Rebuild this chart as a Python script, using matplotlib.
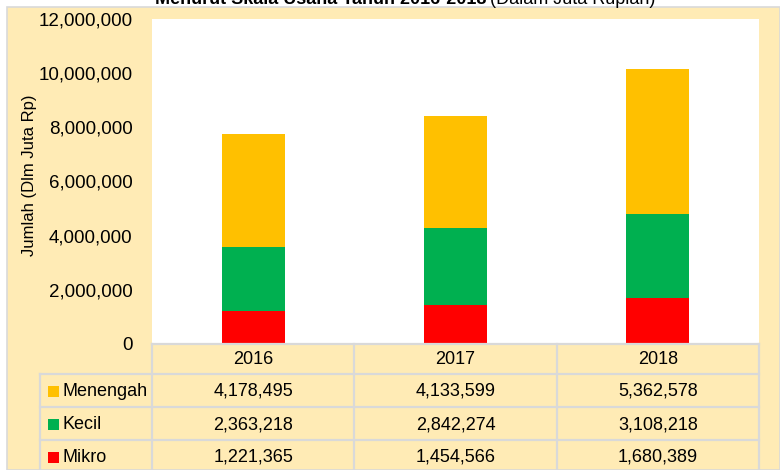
import matplotlib
matplotlib.use('Agg')
import matplotlib.pyplot as plt
from matplotlib.patches import Rectangle
from matplotlib.ticker import FuncFormatter

# Data (Juta Rp)
years = ['2016', '2017', '2018']
series = ['Menengah', 'Kecil', 'Mikro']
mikro = [1221365, 1454566, 1680389]
kecil = [2363218, 2842274, 3108218]
menengah = [4178495, 4133599, 5362578]
colors = {'Menengah': '#FFC000', 'Kecil': '#00B050', 'Mikro': '#FF0000'}

narrow = ['Liberation Sans Narrow', 'Liberation Sans', 'DejaVu Sans']
bg = '#FFEBB5'
grid_c = '#D9D9D9'

W, H = 780, 470
fig = plt.figure(figsize=(W / 100, H / 100), dpi=100, facecolor='white')


def fx(px):
    return px / W


def fy(py):
    # pixel from top -> figure fraction
    return 1 - py / H


# chart area background
fig.patches.append(Rectangle((fx(7), 0), 1 - fx(7), fy(6.5), transform=fig.transFigure,
                             facecolor=bg, edgecolor=grid_c, linewidth=1.2, zorder=-10))

# title (partly above the canvas)
fig.text(fx(486), fy(4), 'Menurut Skala Usaha Tahun 2016-2018', ha='right', va='baseline',
         fontsize=13, fontweight='bold', family=['Liberation Sans', 'DejaVu Sans'])
fig.text(fx(490), fy(4), '(Dalam Juta Rupiah)', ha='left', va='baseline',
         fontsize=13, family=['Liberation Sans', 'DejaVu Sans'])

# bar plot area
left, right, top, bottom = 152, 759, 19, 344
ax = fig.add_axes([fx(left), fy(bottom), fx(right - left), fy(top) - fy(bottom)])
ax.set_facecolor('white')
x = range(len(years))
bw = 0.31
ax.bar(x, mikro, bw, color=colors['Mikro'])
ax.bar(x, kecil, bw, bottom=mikro, color=colors['Kecil'])
base2 = [a + b for a, b in zip(mikro, kecil)]
ax.bar(x, menengah, bw, bottom=base2, color=colors['Menengah'])
ax.set_xlim(-0.5, 2.5)
ax.set_ylim(0, 12000000)
ax.set_yticks(range(0, 12000001, 2000000))
ax.yaxis.set_major_formatter(FuncFormatter(lambda v, p: f'{int(v):,}'))
ax.set_xticks([])
ax.tick_params(axis='y', length=0, pad=14, labelsize=13.5)
for lab in ax.get_yticklabels():
    lab.set_family(narrow)
for s in ax.spines.values():
    s.set_visible(False)
ax.set_ylabel('Jumlah (Dlm Juta Rp)', fontsize=12, family=narrow)
ax.yaxis.set_label_coords(-(152 - 37) / (right - left), 0.52)

# data table below the plot
col_w = (right - left) / 3
leg_w = (left - 40) / col_w
row_tops = [344, 374, 407, 440, 473]
tab = fig.add_axes([fx(40), fy(473), fx(right - 40), fy(344) - fy(473)])
tab.set_xlim(-0.5 - leg_w, 2.5)
tab.set_ylim(473, 344)
tab.axis('off')
tab.patch.set_visible(False)
lw = 1.6
# horizontal lines
tab.plot([-0.5, 2.5], [344, 344], color=grid_c, lw=lw, clip_on=False)
for yv in row_tops[1:4]:
    tab.plot([-0.5 - leg_w, 2.5], [yv, yv], color=grid_c, lw=lw, clip_on=False)
# vertical lines
tab.plot([-0.5 - leg_w, -0.5 - leg_w], [374, 473], color=grid_c, lw=lw, clip_on=False)
for xv in [-0.5, 0.5, 1.5, 2.5]:
    tab.plot([xv, xv], [344, 473], color=grid_c, lw=lw, clip_on=False)

for i, yr in enumerate(years):
    tab.text(i, 359.5, yr, ha='center', va='center', fontsize=13, family=narrow)

rows = {'Menengah': menengah, 'Kecil': kecil, 'Mikro': mikro}
for r, name in enumerate(series):
    yc = (row_tops[r + 1] + row_tops[r + 2]) / 2 + 1
    key_x = -0.5 - leg_w + 8 / col_w
    tab.add_patch(Rectangle((key_x, yc - 5.5), 11 / col_w, 11, facecolor=colors[name],
                            edgecolor='none', clip_on=False))
    tab.text(key_x + 15 / col_w, yc, name, ha='left', va='center', fontsize=13, family=narrow)
    for i, v in enumerate(rows[name]):
        tab.text(i, yc, f'{v:,}', ha='center', va='center', fontsize=13, family=narrow)

fig.savefig('out.png', dpi=100, facecolor='white')
